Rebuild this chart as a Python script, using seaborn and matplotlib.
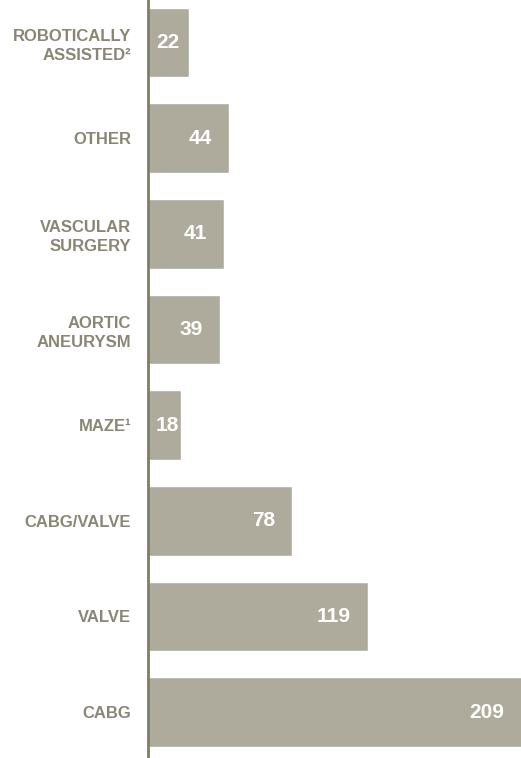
import matplotlib
matplotlib.use("Agg")
import matplotlib.pyplot as plt
import seaborn as sns
import pandas as pd

# Procedure counts, top to bottom as drawn
procedures = ["ROBOTICALLY\nASSISTED²", "OTHER", "VASCULAR\nSURGERY", "AORTIC\nANEURYSM",
              "MAZE¹", "CABG/VALVE", "VALVE", "CABG"]
counts = [22, 44, 41, 39, 18, 78, 119, 209]

df = pd.DataFrame({"procedure": procedures, "count": counts})

sns.set_style("white")
plt.rcParams["font.family"] = ["Liberation Sans", "DejaVu Sans"]

bar_color = "#afab9c"
text_color = "#8a8675"
axis_color = "#7f7c6a"

fig = plt.figure(figsize=(5.21, 7.58), dpi=100)
ax = fig.add_axes([0.284, 0.0, 0.716, 1.0])

sns.barplot(data=df, y="procedure", x="count", orient="h", color=bar_color,
            width=0.73, saturation=1, ax=ax)

# longest bar runs off the right edge, as in the original
xmax = 202
ax.set_xlim(0, xmax)
ax.set_ylim(7.48, -0.445)
ax.set_xlabel("")
ax.set_ylabel("")
ax.set_xticks([])
ax.tick_params(axis="y", length=0, pad=12)
for lab in ax.get_yticklabels():
    lab.set_fontsize(12)
    lab.set_fontweight("bold")
    lab.set_color(text_color)
    lab.set_linespacing(1.3)

for side in ["top", "right", "bottom"]:
    ax.spines[side].set_visible(False)
ax.spines["left"].set_color(axis_color)
ax.spines["left"].set_linewidth(2)

# value labels inside the bars
px = xmax / (0.716 * 521)
for i, v in enumerate(counts):
    if v > 35:
        ax.text(min(v, xmax) - 17 * px, i, str(v), ha="right", va="center", color="white",
                fontsize=15, fontweight="bold")
    else:
        ax.text(8 * px, i, str(v), ha="left", va="center", color="white",
                fontsize=15, fontweight="bold")

fig.savefig("out.png", dpi=100)
